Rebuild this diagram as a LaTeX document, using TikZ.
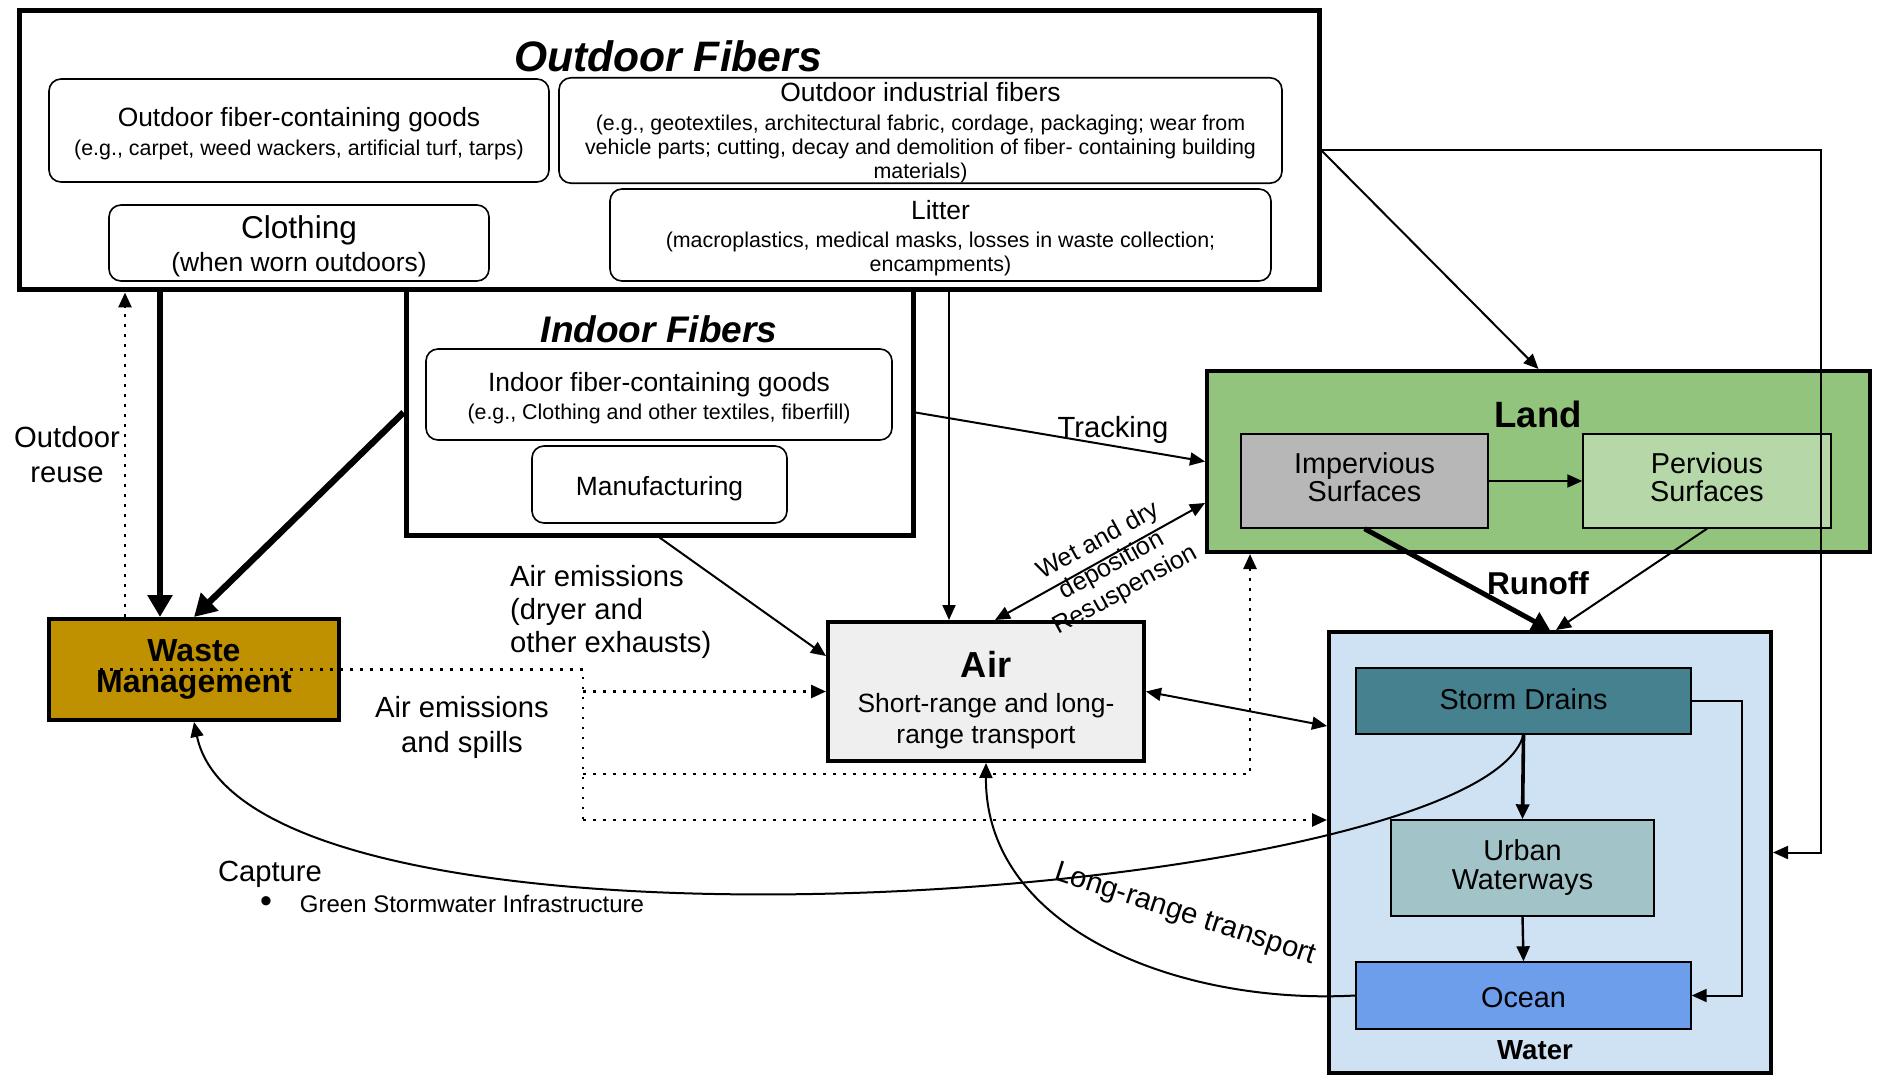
\documentclass[tikz,border=0pt]{standalone}
\usepackage{fontspec}
\setmainfont{Liberation Sans}
\usetikzlibrary{arrows.meta}

\newcommand{\fsz}[2]{\fontsize{#1}{#2}\selectfont}
\newcommand{\strt}[1]{\rule{0pt}{#1}}
\definecolor{wastecol}{HTML}{BF9000}
\definecolor{aircol}{HTML}{EFEFEF}
\definecolor{landcol}{HTML}{93C47D}
\definecolor{impcol}{HTML}{B7B7B7}
\definecolor{pervcol}{HTML}{B6D7A8}
\definecolor{watercol}{HTML}{CFE2F3}
\definecolor{stormcol}{HTML}{45818E}
\definecolor{urbancol}{HTML}{A2C4C9}
\definecolor{oceancol}{HTML}{6D9EEB}

\begin{document}
\begin{tikzpicture}[x=0.5pt,y=-0.5pt,>={Triangle[length=7.5pt,width=6.5pt]},
	lift/.style={execute at begin node={\rule{0pt}{#1}}},
	sink down/.style={execute at end node={\rule[-#1]{0pt}{#1}}},
	fibers/.style={draw,line width=2.5pt,inner sep=0pt},
	item/.style={draw,line width=0.8pt,rounded corners=6pt,align=center,inner sep=0pt,font=\fsz{10.7}{12}},
	sink/.style={draw,line width=2pt,align=center,inner sep=0pt},
	part/.style={draw,line width=0.7pt,align=center,inner sep=0pt,font=\fsz{14.4}{14}},
	lbl/.style={font=\fsz{14.6}{17.5},align=center},
	flow/.style={->,line width=1pt},
	bigflow/.style={-{Triangle[length=11pt,width=12pt]},line width=3.2pt},
	dotline/.style={line width=1.3pt,dash pattern=on 1.3pt off 3.7pt}]
	\fill[white] (0,0) rectangle (1878,1080);
	\useasboundingbox (0,0) rectangle (1878,1080);

	\node[fibers,minimum width=650pt,minimum height=139.5pt] (outdoor) at (669,150.5) {};
	\node[font=\fsz{21.3}{24}\bfseries\itshape] (outtitle) at (668,56) {Outdoor Fibers};
	\node[item,minimum width=250pt,minimum height=51.5pt] (ogoods) at (299,130.5) {{\fsz{13.2}{15}\strt{13.2pt}Outdoor fiber-containing goods}\\[2.5pt](e.g., carpet, weed wackers, artificial turf, tarps)};
	\node[item,minimum width=361.5pt,minimum height=51.5pt] (oind) at (920.5,130.5) {{\fsz{13.2}{15}\strt{12pt}Outdoor industrial fibers}\\[2.5pt](e.g., geotextiles, architectural fabric, cordage, packaging; wear from\\vehicle parts; cutting, decay and demolition of fiber- containing building\\materials)};
	\node[item,minimum width=190pt,minimum height=38pt,font=\fsz{13.2}{15}] (cloth) at (299,243) {{\fsz{15.8}{18}\strt{15.1pt}Clothing}\\[1.5pt](when worn outdoors)};
	\node[item,minimum width=330.5pt,minimum height=46pt] (litter) at (940.5,235) {{\fsz{13.2}{15}\strt{13.2pt}Litter}\\[2pt](macroplastics, medical masks, losses in waste collection;\\encampments)};

	\node[fibers,minimum width=253.5pt,minimum height=122.5pt] (indoor) at (659.5,412.5) {};
	\node[font=\fsz{18.5}{21}\bfseries\itshape] (intitle) at (659,329) {Indoor Fibers};
	\node[item,minimum width=233pt,minimum height=45.5pt] (igoods) at (659,394.5) {{\fsz{13.2}{15}\strt{13.2pt}Indoor fiber-containing goods}\\[2pt](e.g., Clothing and other textiles, fiberfill)};
	\node[item,minimum width=127.5pt,minimum height=38.5pt,font=\fsz{13.2}{15},lift=13.5pt] (manuf) at (659.5,484.5) {Manufacturing};

	\node[sink,fill=wastecol,minimum width=145pt,minimum height=50.5pt,font=\fsz{16}{15.5}\bfseries] (waste) at (194,669.5) {Waste\\Management};
	\node[sink,fill=aircol,minimum width=158pt,minimum height=69.5pt,font=\fsz{13.2}{15.5}] (air) at (986,691.5) {{\fsz{18.1}{20}\bfseries\strt{21.6pt}Air}\\[1.8pt]Short-range and long-\\range transport};

	\node[sink,fill=landcol,minimum width=331.5pt,minimum height=90.5pt] (land) at (1538.5,461.5) {};
	\node[font=\fsz{18.3}{20}\bfseries] (landtitle) at (1538,414) {Land};
	\node[part,fill=impcol,minimum width=123.5pt,minimum height=47pt,sink down=3.6pt] (imperv) at (1364.5,481) {Impervious\\Surfaces};
	\node[part,fill=pervcol,minimum width=124pt,minimum height=47pt,sink down=3.6pt] (perv) at (1707,481) {Pervious\\Surfaces};

	\node[sink,fill=watercol,minimum width=221pt,minimum height=220.5pt] (water) at (1550,852.5) {};
	\node[font=\fsz{13.8}{15}\bfseries] (watertitle) at (1535,1050) {Water};
	\node[part,fill=stormcol,minimum width=167.5pt,minimum height=33pt,sink down=2.4pt] (storm) at (1523.5,701) {Storm Drains};
	\node[part,fill=urbancol,minimum width=131.5pt,minimum height=48pt,font=\fsz{14.4}{14.5}] (urban) at (1522.5,868) {Urban\\Waterways};
	\node[part,fill=oceancol,minimum width=167.5pt,minimum height=33.5pt,lift=12pt] (ocean) at (1523.5,995.5) {Ocean};

	\node[lbl] (reuse) at (67,455) {Outdoor\\reuse};
	\node[lbl,anchor=west,align=left,font=\fsz{14.6}{16.5}] (emis) at (503,612) {Air emissions\\(dryer and\\other exhausts)};
	\node[lbl] (spills) at (462,727) {Air emissions\\and spills};
	\node[lbl] (tracklbl) at (1113,430) {Tracking};
	\node[font=\fsz{15.8}{17}\bfseries] (runlbl) at (1538,583) {Runoff};
	\node[font=\fsz{12.6}{14},align=center,rotate=28.9] (wetlbl) at (1112,566) {Wet and dry\\deposition\\Resuspension};
	\node[lbl,rotate=-18] (longlbl) at (1185,915) {Long-range transport};
	\node[lbl,anchor=west] (capture) at (211,874) {Capture};
	\node[font=\fsz{12}{14},anchor=west] (gsi) at (253,904) {{\fsz{17}{14}\textbullet}\hspace{14pt}Green Stormwater Infrastructure};
	\coordinate (spill) at (100,669.5);

	\draw[bigflow] (160,0 |- outdoor.south) -- (160,0 |- waste.north);
	\draw[bigflow] (indoor.west) -- (waste.north);
	\draw[dotline,->] (125,0 |- waste.north) -- (125,0 |- outdoor.south);
	\draw[flow] (949,0 |- outdoor.south) -- (949,0 |- air.north);
	\draw[flow] (indoor.south) -- (air.west |- 0,656);
	\draw[flow] (indoor.east) -- (land.west);
	\draw[flow,<->] (air.north -| 995,0) -- (land.west |- 0,503);
	\draw[flow] (outdoor.east) -- (land.north);
	\draw[flow] (outdoor.east) -| (1821,852.5) -- (water.east);
	\draw[flow] (imperv.east) -- (perv.west);
	\draw[-{Triangle[length=9pt,width=10pt]},line width=2.5pt] (imperv.south) -- (water.north);
	\draw[flow] (perv.south) -- ([xshift=3pt]water.north);
	\draw[flow,<->] (air.east) -- (water.west |- 0,726);
	\draw[flow,line width=1.8pt] (storm.south) -- (urban.north);
	\draw[flow,line width=1.2pt] (urban.south) -- (ocean.north);
	\draw[flow] (storm.east) -| (1742,995.5) -- (ocean.east);
	\draw[flow] (storm.south) .. controls (1480,900) and (250,990) .. (waste.south);
	\draw[flow] (ocean.west) .. controls (1180,1005) and (985,930) .. (air.south);
	\draw[dotline] (spill) -- (583,669.5) -- (583,820);
	\draw[dotline,->] (583,691.5) -- (air.west);
	\draw[dotline,->] (583,774) -| (1250,0 |- land.south);
	\draw[dotline,->] (583,820) -- (water.west |- 0,820);
\end{tikzpicture}
\end{document}
